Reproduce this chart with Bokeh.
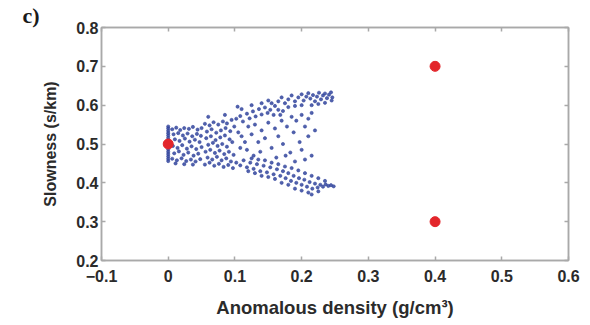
from bokeh.plotting import figure
from bokeh.models import LinearAxis, FixedTicker, Range1d
from bokeh.embed import file_html
from bokeh.resources import INLINE

# ---- data ----
x_ticks = [-0.1, 0, 0.1, 0.2, 0.3, 0.4, 0.5, 0.6]
x_tick_labels = ["\u22120.1", "0", "0.1", "0.2", "0.3", "0.4", "0.5", "0.6"]
y_ticks = [0.2, 0.3, 0.4, 0.5, 0.6, 0.7, 0.8]
y_tick_labels = ["0.2", "0.3", "0.4", "0.5", "0.6", "0.7", "0.8"]

true_x = [0.0, 0.4, 0.4]
true_y = [0.5, 0.7, 0.3]

bar_x = [0.0] * 16
bar_y = [0.456, 0.462, 0.468, 0.474, 0.480, 0.486, 0.492, 0.498, 0.504, 0.510,
         0.516, 0.522, 0.528, 0.534, 0.540, 0.545]

core_pts = [
    (0.006, 0.538), (0.012, 0.542), (0.018, 0.536), (0.024, 0.541), (0.031, 0.539), (0.037, 0.544),
    (0.044, 0.537), (0.05, 0.541), (0.008, 0.525), (0.015, 0.528), (0.022, 0.522), (0.029, 0.527),
    (0.036, 0.52), (0.043, 0.526), (0.049, 0.521), (0.01, 0.512), (0.017, 0.508), (0.025, 0.514),
    (0.032, 0.506), (0.04, 0.511), (0.047, 0.505), (0.007, 0.495), (0.014, 0.49), (0.021, 0.497),
    (0.028, 0.488), (0.035, 0.494), (0.042, 0.487), (0.05, 0.492), (0.009, 0.476), (0.016, 0.481),
    (0.023, 0.472), (0.03, 0.478), (0.038, 0.47), (0.045, 0.475), (0.006, 0.462), (0.013, 0.458),
    (0.02, 0.463), (0.027, 0.456), (0.034, 0.46), (0.041, 0.455), (0.048, 0.461), (0.011, 0.45),
    (0.024, 0.448), (0.037, 0.447),
    (0.055, 0.552), (0.062, 0.548), (0.068, 0.556), (0.075, 0.55), (0.082, 0.558), (0.088, 0.553),
    (0.095, 0.562), (0.058, 0.532), (0.065, 0.538), (0.072, 0.529), (0.079, 0.535), (0.086, 0.541),
    (0.093, 0.533), (0.099, 0.545), (0.057, 0.515), (0.064, 0.52), (0.071, 0.51), (0.078, 0.517),
    (0.085, 0.522), (0.092, 0.512), (0.06, 0.498), (0.067, 0.503), (0.074, 0.495), (0.081, 0.5),
    (0.088, 0.493), (0.096, 0.505), (0.056, 0.48), (0.063, 0.485), (0.07, 0.477), (0.077, 0.483),
    (0.084, 0.474), (0.091, 0.48), (0.098, 0.472), (0.059, 0.465), (0.066, 0.46), (0.073, 0.467),
    (0.08, 0.458), (0.087, 0.463), (0.094, 0.455), (0.055, 0.447), (0.062, 0.452), (0.069, 0.444),
    (0.076, 0.449), (0.083, 0.441), (0.09, 0.446), (0.097, 0.438), (0.06, 0.57), (0.085, 0.575),
    (0.104, 0.596),
]

upper_pts = [
    (0.165, 0.61), (0.17, 0.62), (0.175, 0.605), (0.18, 0.615), (0.185, 0.625), (0.19, 0.61),
    (0.195, 0.62), (0.2, 0.628), (0.203, 0.612), (0.207, 0.622), (0.21, 0.631), (0.213, 0.617),
    (0.217, 0.626), (0.22, 0.61), (0.223, 0.622), (0.226, 0.632), (0.229, 0.615), (0.232, 0.625),
    (0.235, 0.63), (0.238, 0.618), (0.241, 0.627), (0.244, 0.633), (0.246, 0.62), (0.215, 0.6),
    (0.225, 0.603), (0.235, 0.606), (0.245, 0.612), (0.19, 0.598), (0.2, 0.6), (0.18, 0.595),
    (0.16, 0.598), (0.155, 0.605),
    (0.102, 0.565), (0.108, 0.572), (0.112, 0.558), (0.118, 0.578), (0.122, 0.566), (0.127, 0.584),
    (0.131, 0.571), (0.136, 0.59), (0.14, 0.576), (0.145, 0.594), (0.149, 0.58), (0.153, 0.588),
    (0.158, 0.575), (0.11, 0.59), (0.125, 0.6), (0.14, 0.605), (0.15, 0.612), (0.165, 0.588),
    (0.172, 0.585),
]

middle_pts = [
    (0.12, 0.545), (0.125, 0.525), (0.13, 0.55), (0.135, 0.505), (0.14, 0.535), (0.145, 0.515),
    (0.15, 0.555), (0.155, 0.49), (0.16, 0.54), (0.165, 0.52), (0.17, 0.56), (0.172, 0.5),
    (0.178, 0.545), (0.183, 0.478), (0.188, 0.53), (0.192, 0.56), (0.197, 0.505), (0.2, 0.485),
    (0.205, 0.545), (0.21, 0.52), (0.215, 0.47), (0.22, 0.535), (0.118, 0.485), (0.128, 0.47),
    (0.138, 0.48), (0.162, 0.465), (0.176, 0.47), (0.19, 0.455), (0.205, 0.46), (0.11, 0.52),
    (0.115, 0.505), (0.105, 0.53), (0.108, 0.49), (0.168, 0.575), (0.185, 0.57), (0.2, 0.575),
    (0.215, 0.58), (0.21, 0.565),
]

lower_pts = [
    (0.102, 0.452), (0.108, 0.445), (0.113, 0.458), (0.118, 0.44), (0.123, 0.452), (0.128, 0.436),
    (0.133, 0.448), (0.138, 0.43), (0.143, 0.444), (0.148, 0.427), (0.153, 0.44), (0.158, 0.422),
    (0.163, 0.435), (0.168, 0.418), (0.172, 0.43), (0.176, 0.412), (0.18, 0.425), (0.184, 0.405),
    (0.188, 0.418), (0.192, 0.4), (0.196, 0.412), (0.2, 0.395), (0.204, 0.408), (0.208, 0.39),
    (0.212, 0.402), (0.216, 0.385), (0.22, 0.398), (0.224, 0.388), (0.228, 0.395), (0.232, 0.39),
    (0.236, 0.396), (0.24, 0.392), (0.244, 0.394), (0.248, 0.391), (0.21, 0.375), (0.215, 0.37),
    (0.2, 0.38), (0.19, 0.385), (0.225, 0.378), (0.18, 0.395), (0.17, 0.4), (0.16, 0.41),
    (0.15, 0.415), (0.14, 0.418), (0.13, 0.425), (0.12, 0.43), (0.125, 0.463), (0.135, 0.46),
    (0.145, 0.458), (0.155, 0.452), (0.165, 0.448), (0.175, 0.442), (0.185, 0.438), (0.195, 0.432),
    (0.205, 0.425), (0.215, 0.418), (0.225, 0.412), (0.235, 0.405),
]

cloud = core_pts + upper_pts + middle_pts + lower_pts
cloud_x = bar_x + [p[0] for p in cloud]
cloud_y = bar_y + [p[1] for p in cloud]

# ---- styling ----
AX = "#a9a9a9"
TXT = "#2b2b2b"
FONT = "Liberation Sans"

p = figure(width=590, height=325, output_backend="svg", toolbar_location=None,
           x_range=Range1d(-0.1, 0.6), y_range=Range1d(0.2, 0.8),
           min_border_left=101, min_border_right=22, min_border_top=25, min_border_bottom=65,
           background_fill_color="white", border_fill_color="white")
p.grid.visible = False
p.outline_line_color = AX
p.outline_line_width = 1.5

p.title.text = "c)"
p.title.align = "left"
p.title.offset = -79
p.title.standoff = 0
p.title.text_font = "Liberation Serif"
p.title.text_font_style = "bold"
p.title.text_font_size = "22px"
p.title.text_color = "#1a1a1a"

p.scatter(cloud_x, cloud_y, size=3.2, marker="circle",
          fill_color="#34469e", line_color="#34469e", fill_alpha=0.85, line_alpha=0.6)
p.scatter(true_x, true_y, size=10, marker="circle",
          fill_color="#e3262b", line_color="#e3262b")

def style(ax, labels_visible=True):
    ax.axis_line_color = AX
    ax.axis_line_width = 1.5
    ax.major_tick_line_color = AX
    ax.major_tick_line_width = 1.5
    ax.major_tick_in = 4
    ax.major_tick_out = 0
    ax.minor_tick_line_color = None
    if labels_visible:
        ax.major_label_text_font = FONT
        ax.major_label_text_font_style = "bold"
        ax.major_label_text_font_size = "16px"
        ax.major_label_text_color = TXT
        ax.axis_label_text_font = FONT
        ax.axis_label_text_font_style = "bold"
        ax.axis_label_text_font_size = "16px"
        ax.axis_label_text_color = TXT
    else:
        ax.major_label_text_font_size = "1px"
        ax.major_label_text_color = None
        ax.major_label_standoff = 0

xa = p.xaxis[0]
xa.ticker = FixedTicker(ticks=x_ticks)
xa.major_label_overrides = dict(zip(x_ticks, x_tick_labels))
xa.axis_label = "Anomalous density (g/cm\u00b3)"
style(xa)
xa.axis_label_text_font_size = "18.5px"
xa.major_label_standoff = 9
xa.axis_label_standoff = 12

ya = p.yaxis[0]
ya.ticker = FixedTicker(ticks=y_ticks)
ya.major_label_overrides = dict(zip(y_ticks, y_tick_labels))
ya.axis_label = "Slowness (s/km)"
style(ya)
ya.major_label_standoff = 3
ya.axis_label_standoff = 14

top = LinearAxis(ticker=FixedTicker(ticks=x_ticks))
style(top, False)
p.add_layout(top, "above")
right = LinearAxis(ticker=FixedTicker(ticks=y_ticks))
style(right, False)
p.add_layout(right, "right")

open("out.html", "w").write(file_html(p, INLINE))
